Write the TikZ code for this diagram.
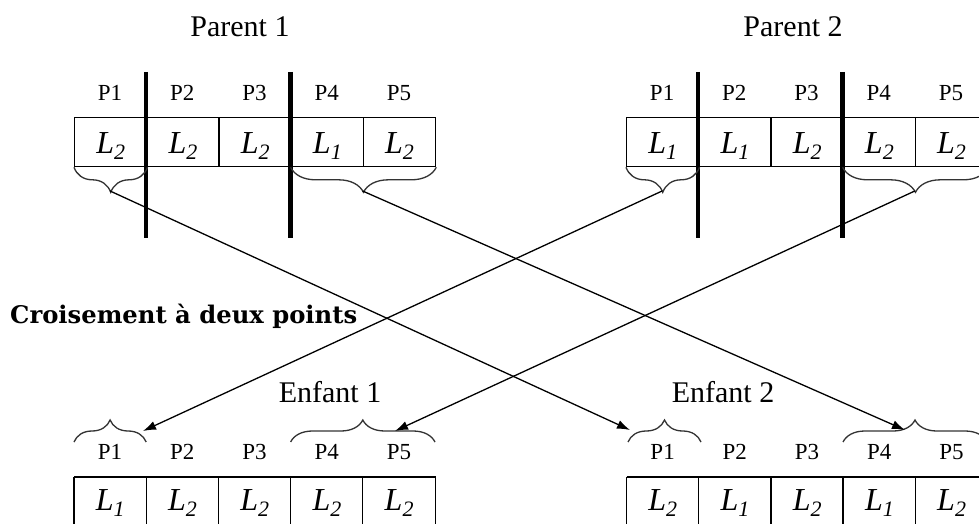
\documentclass[tikz,border=0pt]{standalone}
\usepackage{fontspec}
\setmainfont{Liberation Serif}
\newfontfamily\croisfont{DejaVu Serif}
\usetikzlibrary{arrows.meta,decorations.pathreplacing}
\newcommand\Lsb[1]{{\fontsize{32}{32}\selectfont\itshape L}\raisebox{-6pt}{\fontsize{22}{22}\selectfont\itshape #1}}
\begin{document}
\begin{tikzpicture}[x=1pt,y=-1pt,
  cell/.style={draw, line width=1.3pt, minimum width=72.2pt, minimum height=49pt, inner sep=0pt, text height=23pt, text depth=0pt, anchor=north west},
  opencell/.style={draw=none, minimum width=72.2pt, minimum height=44pt, inner sep=0pt, text height=23pt, text depth=0pt, anchor=north west},
  rule/.style={line width=1.3pt},
  plab/.style={font=\fontsize{23}{23}\selectfont, inner sep=0pt},
  title/.style={font=\fontsize{30}{30}\selectfont, inner sep=0pt},
  sepline/.style={line width=4.5pt},
  brc/.style={decorate, decoration={brace, amplitude=#1}, line width=1.3pt, draw=black!80},
  arr/.style={line width=1.3pt, -{Latex[length=13pt,width=9pt]}}]
\useasboundingbox (0,0) rectangle (979,524);
\clip (0,0) rectangle (979,524);
\fill[white] (0,0) rectangle (979,524);

% titles
\node[title] (tp1) at (240,27) {Parent 1};
\node[title] (tp2) at (793,27) {Parent 2};
\node[title] (te1) at (330,392) {Enfant 1};
\node[title] (te2) at (723,392) {Enfant 2};
\node[anchor=base west, inner sep=0pt] (crois) at (10,323) {\resizebox{347pt}{!}{\croisfont\bfseries Croisement à deux points}};

% Parent 1
\foreach \i/\v in {1/2,2/2,3/2,4/1,5/2} {
  \node[cell] (pa\i) at ({74+(\i-1)*72.2},117) {\Lsb{\v}};
  \node[plab] (pal\i) at ({110.1+(\i-1)*72.2},93) {P\i};
}
% Parent 2
\foreach \i/\v in {1/1,2/1,3/2,4/2,5/2} {
  \node[cell] (pb\i) at ({626+(\i-1)*72.2},117) {\Lsb{\v}};
  \node[plab] (pbl\i) at ({662.1+(\i-1)*72.2},93) {P\i};
}
% Enfant 1 (table runs past the lower edge)
\foreach \i/\v in {1/1,2/2,3/2,4/2,5/2} {
  \node[opencell] (ea\i) at ({74+(\i-1)*72.2},477) {\Lsb{\v}};
  \node[plab] (eal\i) at ({110.1+(\i-1)*72.2},452) {P\i};
  \draw[rule] (ea\i.north west) -- ++(0,60);
}
\draw[rule] (ea1.north west) -- (ea5.north east) -- ++(0,60);
% Enfant 2
\foreach \i/\v in {1/2,2/1,3/2,4/1,5/2} {
  \node[opencell] (eb\i) at ({626.5+(\i-1)*72.2},477) {\Lsb{\v}};
  \node[plab] (ebl\i) at ({662.6+(\i-1)*72.2},452) {P\i};
  \draw[rule] (eb\i.north west) -- ++(0,60);
}
\draw[rule] (eb1.north west) -- (eb5.north east) -- ++(0,60);

% crossover separators
\draw[sepline] (146.2,72) -- (146.2,238);
\draw[sepline] (290.6,72) -- (290.6,238);
\draw[sepline] (698.2,72) -- (698.2,238);
\draw[sepline] (842.6,72) -- (842.6,238);

% braces under parents
\draw[brc=25pt] (pa1.south east) -- (pa1.south west);
\draw[brc=25pt] (pa5.south east) -- (pa4.south west);
\draw[brc=25pt] (pb1.south east) -- (pb1.south west);
\draw[brc=25pt] (pb5.south east) -- (pb4.south west);
\coordinate (t1) at (110.1,191);
\coordinate (t2) at (362.6,191);
\coordinate (t3) at (662.1,191);
\coordinate (t4) at (914.8,191);

% braces above children
\draw[brc=22pt] (74,442) -- (146.2,442);
\draw[brc=22pt] (290.6,442) -- (435,442);
\draw[brc=22pt] (628,442) -- (701,442);
\draw[brc=22pt] (843,442) -- (987,442);
\coordinate (e1a) at (143,431);
\coordinate (e1b) at (395,431);
\coordinate (e2a) at (630,430);
\coordinate (e2b) at (905,430);

% arrows
\draw[arr] (t1) -- (e2a);
\draw[arr] (t2) -- (e2b);
\draw[arr] (t3) -- (e1a);
\draw[arr] (t4) -- (e1b);
\end{tikzpicture}
\end{document}
